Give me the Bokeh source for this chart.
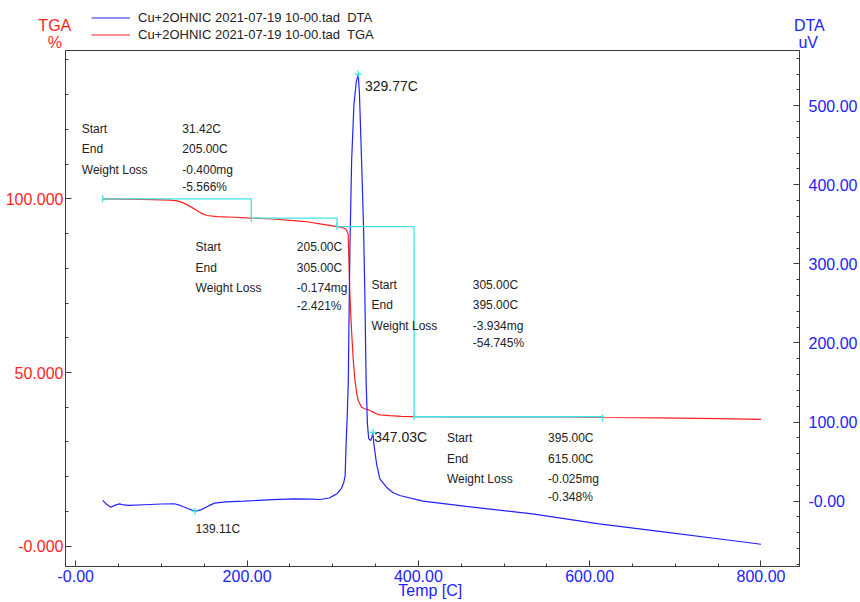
import numpy as np
from bokeh.plotting import figure
from bokeh.layouts import column, row
from bokeh.models import (Range1d, LinearAxis, SingleIntervalTicker,
                          Legend, LegendItem, ColumnDataSource)
from bokeh.core.properties import value
from bokeh.embed import file_html
from bokeh.resources import INLINE

# ---------------- data ----------------
dta_temp = [31.4, 36, 41, 46, 51, 56, 62, 80, 100, 115, 122, 130, 139.1, 146, 155, 162,
            175, 196, 230, 254, 275, 285, 296, 301, 305, 310, 313, 314.5, 315.5, 317.0,
            318.2, 319.3, 320.1, 322.1, 324.8, 327.5, 329.8, 331.2, 333.7, 336.0, 337.5,
            339.0, 340.5, 342.0, 344.2, 345.5, 347.0, 348.0, 351.2, 355.0, 362.8, 370.0,
            378.3, 405.3, 455.8, 533.3, 611.0, 688.4, 765.8, 800.0]
dta_uv = [1.0, -4.0, -7.6, -5.0, -3.5, -4.8, -5.3, -4.5, -3.6, -3.3, -5.4, -9.0, -12.6, -11.0,
          -6.0, -2.5, -1.0, 0.0, 2.0, 3.0, 2.5, 2.1, 4.0, 7.0, 9.5, 16.0, 24.0, 32.0, 68.0,
          110.0, 153.0, 254.0, 321.0, 431.0, 502.0, 530.0, 540.0, 515.0, 430.0, 346.0, 262.0,
          152.0, 98.0, 79.0, 76.7, 80.0, 87.0, 72.6, 47.3, 28.3, 17.7, 11.0, 7.2, 0.0, -6.7,
          -16.0, -28.6, -39.2, -49.7, -54.5]

tga_temp = [31.4, 60, 90, 110, 118, 125, 133, 141, 147, 153, 165, 185, 205, 230, 254, 270,
            285, 300, 305, 310, 314, 316, 318, 320, 322, 324, 326, 328, 329.8, 333.7, 338,
            341.4, 344, 347.2, 350, 355, 366.6, 380, 395, 450, 500, 564, 615, 680, 750, 800]
tga_pct = [100.0, 99.9, 99.75, 99.6, 99.4, 98.9, 97.9, 96.7, 95.8, 95.2, 94.9, 94.7, 94.45,
           94.2, 93.75, 93.4, 92.8, 92.2, 92.0, 91.8, 91.5, 91.1, 89.9, 72.6, 62.0, 53.5,
           47.7, 44.0, 41.9, 40.0, 39.5, 39.3, 39.0, 38.6, 38.2, 37.8, 37.6, 37.4, 37.3,
           37.25, 37.2, 37.2, 37.05, 36.95, 36.7, 36.5]

step_start = [31.42, 205.00, 305.00, 395.00]
step_end = [205.00, 305.00, 395.00, 615.00]
step_loss_mg = [-0.400, -0.174, -3.934, -0.025]
step_loss_pct = [-5.566, -2.421, -54.745, -0.348]
start_level = 100.0

peak_temp = [329.77, 347.03, 139.11]
peak_uv = [540.0, 87.0, -12.6]

x_ticks = [0, 200, 400, 600, 800]
x_tick_labels = ["-0.00", "200.00", "400.00", "600.00", "800.00"]
tga_ticks = [0, 50, 100]
tga_tick_labels = ["-0.000", "50.000", "100.000"]
dta_ticks = [0, 100, 200, 300, 400, 500]
dta_tick_labels = ["-0.00", "100.00", "200.00", "300.00", "400.00", "500.00"]

legend_dta = "Cu+2OHNIC 2021-07-19 10-00.tad  DTA"
legend_tga = "Cu+2OHNIC 2021-07-19 10-00.tad  TGA"
x_title = "Temp  [C]"
left_title = ["TGA", "%"]
right_title = ["DTA", "uV"]

# ---------------- style ----------------
FONT = "Liberation Sans"
RED = "#ff1f1f"
BLUE = "#2222ff"
CYAN = "#3fe3e3"
DARK = "#3a3a3a"
TXT = "#222222"
HEADER_H = 50

# ---------------- header strip (axis titles + legend) ----------------
hdr = figure(width=860, height=HEADER_H, output_backend="svg", toolbar_location=None,
             x_range=Range1d(0, 860), y_range=Range1d(HEADER_H, 0),
             x_axis_location=None, y_axis_location=None,
             min_border_left=0, min_border_right=0, min_border_top=0,
             min_border_bottom=0)
hdr.outline_line_color = None
hdr.xgrid.visible = False
hdr.ygrid.visible = False
hdr.text(x=[54.3, 54.3], y=[24.5, 41.5], text=left_title, text_font=value(FONT),
         text_font_size="16px", text_color=RED, text_align="center",
         text_baseline="middle")
hdr.text(x=[808.8, 807.7], y=[24.5, 41.5], text=right_title, text_font=value(FONT),
         text_font_size="16px", text_color=BLUE, text_align="center",
         text_baseline="middle")
# legend keys: one-point lines (nothing drawn in the strip, only the legend swatch)
key_dta = hdr.line(dta_temp[:1], dta_uv[:1], line_color=BLUE, line_width=1.2)
key_tga = hdr.line(tga_temp[:1], tga_pct[:1], line_color=RED, line_width=1.2)
legend = Legend(items=[LegendItem(label=legend_dta, renderers=[key_dta]),
                       LegendItem(label=legend_tga, renderers=[key_tga])],
                location=(91, 7.2), orientation="vertical",
                label_text_font=FONT, label_text_font_size="13px",
                label_text_color=TXT, label_height=17, glyph_height=17,
                glyph_width=39, label_standoff=8, spacing=0, padding=0, margin=0,
                border_line_alpha=0, background_fill_alpha=0)
hdr.add_layout(legend, "center")

# ---------------- main plot ----------------
p = figure(width=860, height=602 - HEADER_H, output_backend="svg", toolbar_location=None,
           x_range=Range1d(-12, 845), y_range=Range1d(-5.84, 142.7),
           min_border_left=65, min_border_right=61, min_border_top=0,
           min_border_bottom=36)
p.extra_y_ranges = {"dta": Range1d(-82.6, 569.8)}
p.xgrid.visible = False
p.ygrid.visible = False
p.outline_line_color = DARK
p.outline_line_width = 1


def style_axis(ax, color, standoff):
    ax.axis_line_color = DARK
    ax.major_tick_line_color = DARK
    ax.minor_tick_line_color = DARK
    ax.major_tick_in = 6
    ax.major_tick_out = 0
    ax.minor_tick_in = 3
    ax.minor_tick_out = 0
    ax.major_label_text_color = color
    ax.major_label_text_font = FONT
    ax.major_label_text_font_size = "16px"
    ax.major_label_standoff = standoff


xa = p.xaxis[0]
xa.ticker = SingleIntervalTicker(interval=200, num_minor_ticks=4)
xa.major_label_overrides = dict(zip(x_ticks, x_tick_labels))
style_axis(xa, BLUE, 3)
xa.axis_label = x_title
xa.axis_label_text_color = BLUE
xa.axis_label_text_font = FONT
xa.axis_label_text_font_size = "16px"
xa.axis_label_text_font_style = "normal"
xa.axis_label_standoff = -3

ya = p.yaxis[0]
ya.ticker = SingleIntervalTicker(interval=50, num_minor_ticks=5)
ya.major_label_overrides = dict(zip(tga_ticks, tga_tick_labels))
style_axis(ya, RED, 2)

ra = LinearAxis(y_range_name="dta")
ra.ticker = SingleIntervalTicker(interval=100, num_minor_ticks=5)
ra.major_label_overrides = dict(zip(dta_ticks, dta_tick_labels))
style_axis(ra, BLUE, 9)
p.add_layout(ra, "right")

# curves
p.line(tga_temp, tga_pct, line_color=RED, line_width=1.2)
p.line(dta_temp, dta_uv, line_color=BLUE, line_width=1.2, y_range_name="dta")

# step analysis (cyan)
levels_after = list(start_level + np.cumsum(step_loss_pct))
levels_before = [start_level] + levels_after[:-1]
sx, sy = [], []
for s, e, lb, la in zip(step_start, step_end, levels_before, levels_after):
    sx += [s, e, e]
    sy += [lb, lb, la]
p.line(sx[:-1], sy[:-1], line_color=CYAN, line_width=1.3)
tick_x = [step_start[0]] + step_end
tick_y = [start_level] + levels_after
p.scatter(tick_x, tick_y, marker="dash", angle=np.pi / 2, size=7,
          line_color=CYAN, line_width=1.3)
p.scatter(peak_temp, peak_uv, marker="cross", size=7, line_color=CYAN,
          line_width=1.3, y_range_name="dta")

# annotation text blocks
block_label_x = [7.0, 139.9, 345.3, 433.3]
block_value_x = [124.4, 258.1, 463.5, 551.5]
block_top_y = [120.2, 86.1, 75.3, 31.2]
row_dy = [0.0, 5.96, 11.8, 16.9]

tx, ty, tt = [], [], []
for i in range(4):
    names = ["Start", "End", "Weight Loss"]
    vals = [f"{step_start[i]:.2f}C", f"{step_end[i]:.2f}C",
            f"{step_loss_mg[i]:.3f}mg", f"{step_loss_pct[i]:.3f}%"]
    for j, n in enumerate(names):
        tx.append(block_label_x[i]); ty.append(block_top_y[i] - row_dy[j]); tt.append(n)
    for j, v in enumerate(vals):
        tx.append(block_value_x[i]); ty.append(block_top_y[i] - row_dy[j]); tt.append(v)
p.text(x=tx, y=ty, text=tt, text_font=value(FONT), text_font_size="12px",
       text_color=TXT, text_baseline="middle", text_align="left")

peak_label_x = [337.6, 348.4, 139.9]
peak_label_y = [524.3, 80.9, -34.9]
peak_label_size = ["14px", "14px", "12px"]
pk = ColumnDataSource(dict(x=peak_label_x, y=peak_label_y,
                           t=[f"{v:.2f}C" for v in peak_temp], s=peak_label_size))
p.text(x="x", y="y", text="t", source=pk, text_font=value(FONT), text_font_size="s",
       text_color=TXT, text_baseline="middle", text_align="left", y_range_name="dta")

layout = column(row(hdr, spacing=0), p, spacing=0)
open("out.html", "w").write(file_html(layout, INLINE))
